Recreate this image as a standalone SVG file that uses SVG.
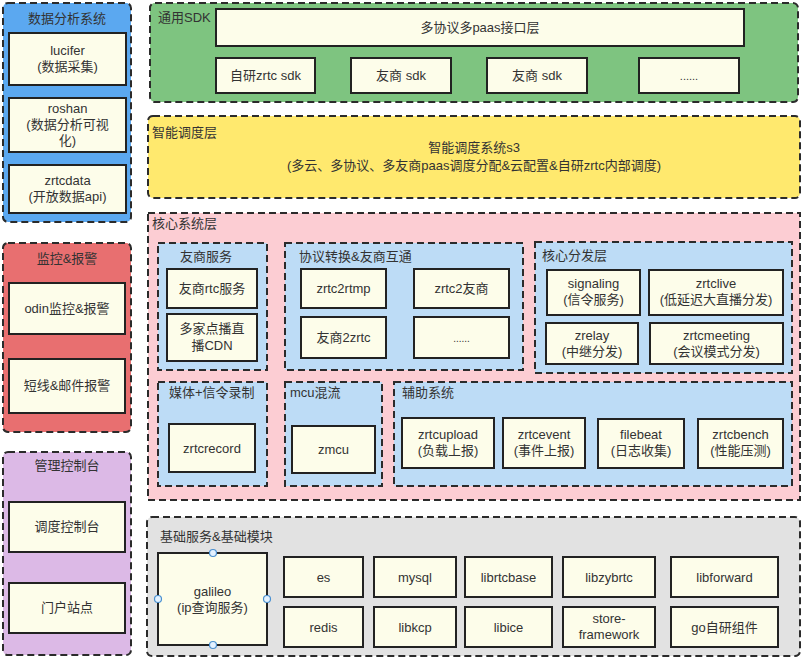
<svg xmlns="http://www.w3.org/2000/svg" width="802" height="658" viewBox="0 0 802 658">
<style>
text{font-family:"Liberation Sans","Noto Sans CJK SC",sans-serif;font-size:13px;fill:#333;}
.c{text-anchor:middle;}
.p{stroke:#2b2b2b;stroke-width:2;stroke-dasharray:7 4;}
.n{fill:#fdfdea;stroke:#222;stroke-width:2;}
.h{fill:#e3f1ff;stroke:#4a90d0;stroke-width:1.2;}
</style>
<rect width="802" height="658" fill="#fff"/>

<!-- 数据分析系统 -->
<g id="data-analysis">
<rect class="p" x="3" y="3" width="128" height="219" rx="5" fill="#5ba8f0"/>
<text class="c" x="67" y="23">数据分析系统</text>
<g id="lucifer"><rect class="n" x="9" y="33" width="117" height="52"/><text class="c" x="67.5" y="55">lucifer</text><text class="c" x="67.5" y="71">(数据采集)</text></g>
<g id="roshan"><rect class="n" x="9" y="98" width="117" height="54"/><text class="c" x="67.5" y="113">roshan</text><text class="c" x="67.5" y="129">(数据分析可视</text><text class="c" x="67.5" y="145">化)</text></g>
<g id="zrtcdata"><rect class="n" x="9" y="165" width="117" height="48"/><text class="c" x="67.5" y="185">zrtcdata</text><text class="c" x="67.5" y="201">(开放数据api)</text></g>
</g>

<!-- 监控&报警 -->
<g id="monitor">
<rect class="p" x="3" y="243" width="128" height="189" rx="5" fill="#e86f70"/>
<text class="c" x="67" y="263">监控&amp;报警</text>
<g id="odin"><rect class="n" x="9" y="283" width="116" height="51"/><text class="c" x="67" y="313">odin监控&amp;报警</text></g>
<g id="sms"><rect class="n" x="9" y="359" width="116" height="54"/><text class="c" x="67" y="390">短线&amp;邮件报警</text></g>
</g>

<!-- 管理控制台 -->
<g id="console">
<rect class="p" x="3" y="452" width="128" height="203" rx="5" fill="#dcb9e6"/>
<text class="c" x="67" y="470">管理控制台</text>
<g id="sched-console"><rect class="n" x="9" y="502" width="116" height="50"/><text class="c" x="67" y="531">调度控制台</text></g>
<g id="portal"><rect class="n" x="9" y="583" width="116" height="50"/><text class="c" x="67" y="612">门户站点</text></g>
</g>

<!-- 通用SDK -->
<g id="sdk">
<rect class="p" x="150" y="3" width="648" height="99" rx="5" fill="#7ec480"/>
<text x="158" y="22">通用SDK</text>
<g id="paas-layer"><rect class="n" x="216" y="9" width="528" height="37"/><text class="c" x="480" y="32">多协议多paas接口层</text></g>
<g id="zrtc-sdk"><rect class="n" x="216" y="58" width="99" height="35"/><text class="c" x="265.5" y="80">自研zrtc sdk</text></g>
<g id="vendor-sdk1"><rect class="n" x="351" y="58" width="100" height="35"/><text class="c" x="401" y="80">友商 sdk</text></g>
<g id="vendor-sdk2"><rect class="n" x="487" y="58" width="100" height="35"/><text class="c" x="537" y="80">友商 sdk</text></g>
<g id="sdk-more"><rect class="n" x="639" y="58" width="100" height="35"/><text class="c" x="689" y="80" style="font-size:11px">......</text></g>
</g>

<!-- 智能调度层 -->
<g id="schedule">
<rect class="p" x="148" y="116" width="652" height="82" rx="5" fill="#ffe96e"/>
<text x="152" y="137">智能调度层</text>
<text class="c" x="474" y="152">智能调度系统s3</text>
<text class="c" x="474" y="170">(多云、多协议、多友商paas调度分配&amp;云配置&amp;自研zrtc内部调度)</text>
</g>

<!-- 核心系统层 -->
<g id="core">
<rect class="p" x="148" y="213" width="652" height="287" fill="#fccdd3"/>
<text x="152" y="228">核心系统层</text>

<g id="vendor-service">
<rect class="p" x="158" y="243" width="109" height="127" fill="#bddcf6"/>
<text x="180" y="261">友商服务</text>
<g id="vendor-rtc"><rect class="n" x="167" y="269" width="90" height="39"/><text class="c" x="212" y="293">友商rtc服务</text></g>
<g id="cdn"><rect class="n" x="167" y="314" width="90" height="47"/><text class="c" x="212" y="333">多家点播直</text><text class="c" x="212" y="350">播CDN</text></g>
</g>

<g id="protocol">
<rect class="p" x="285" y="243" width="238" height="127" fill="#bddcf6"/>
<text x="299" y="261">协议转换&amp;友商互通</text>
<g id="zrtc2rtmp"><rect class="n" x="301" y="269" width="85" height="39"/><text class="c" x="343.5" y="293">zrtc2rtmp</text></g>
<g id="zrtc2vendor"><rect class="n" x="414" y="269" width="95" height="39"/><text class="c" x="461.5" y="293">zrtc2友商</text></g>
<g id="vendor2zrtc"><rect class="n" x="301" y="317" width="85" height="41"/><text class="c" x="343.5" y="342">友商2zrtc</text></g>
<g id="protocol-more"><rect class="n" x="414" y="317" width="95" height="41"/><text class="c" x="461.5" y="342" style="font-size:10px">......</text></g>
</g>

<g id="dispatch">
<rect class="p" x="535" y="242" width="257" height="131" fill="#bddcf6"/>
<text x="542" y="260">核心分发层</text>
<g id="signaling"><rect class="n" x="547" y="270" width="93" height="45"/><text class="c" x="593.5" y="288">signaling</text><text class="c" x="593.5" y="304">(信令服务)</text></g>
<g id="zrtclive"><rect class="n" x="649" y="270" width="134" height="45"/><text class="c" x="716" y="288">zrtclive</text><text class="c" x="716" y="304">(低延迟大直播分发)</text></g>
<g id="zrelay"><rect class="n" x="546" y="323" width="92" height="41"/><text class="c" x="592" y="340">zrelay</text><text class="c" x="592" y="356">(中继分发)</text></g>
<g id="zrtcmeeting"><rect class="n" x="650" y="323" width="133" height="41"/><text class="c" x="716.5" y="340">zrtcmeeting</text><text class="c" x="716.5" y="356">(会议模式分发)</text></g>
</g>

<g id="record">
<rect class="p" x="158" y="382" width="109" height="104" fill="#bddcf6"/>
<text x="169" y="397">媒体+信令录制</text>
<g id="zrtcrecord"><rect class="n" x="169" y="424" width="86" height="48"/><text class="c" x="212" y="453">zrtcrecord</text></g>
</g>

<g id="mcu">
<rect class="p" x="285" y="382" width="97" height="104" fill="#bddcf6"/>
<text x="290" y="397">mcu混流</text>
<g id="zmcu"><rect class="n" x="292" y="426" width="83" height="47"/><text class="c" x="333.5" y="454">zmcu</text></g>
</g>

<g id="aux">
<rect class="p" x="394" y="382" width="398" height="104" fill="#bddcf6"/>
<text x="402" y="397">辅助系统</text>
<g id="zrtcupload"><rect class="n" x="402" y="418" width="92" height="50"/><text class="c" x="448" y="439">zrtcupload</text><text class="c" x="448" y="455">(负载上报)</text></g>
<g id="zrtcevent"><rect class="n" x="503" y="418" width="82" height="50"/><text class="c" x="544" y="439">zrtcevent</text><text class="c" x="544" y="455">(事件上报)</text></g>
<g id="filebeat"><rect class="n" x="598" y="419" width="86" height="49"/><text class="c" x="641" y="439">filebeat</text><text class="c" x="641" y="455">(日志收集)</text></g>
<g id="zrtcbench"><rect class="n" x="698" y="419" width="85" height="49"/><text class="c" x="740.5" y="439">zrtcbench</text><text class="c" x="740.5" y="455">(性能压测)</text></g>
</g>
</g>

<!-- 基础服务&基础模块 -->
<g id="base">
<rect class="p" x="147" y="517" width="653" height="139" rx="5" fill="#e2e2e2"/>
<text x="160" y="541">基础服务&amp;基础模块</text>
<g id="galileo"><rect class="n" x="158" y="553" width="109" height="92"/><text class="c" x="212.5" y="596">galileo</text><text class="c" x="212.5" y="612">(ip查询服务)</text>
<circle class="h" cx="213" cy="553" r="3.5"/><circle class="h" cx="213" cy="645" r="3.5"/><circle class="h" cx="158" cy="599" r="3.5"/><circle class="h" cx="267" cy="599" r="3.5"/></g>
<g id="es"><rect class="n" x="284" y="557" width="79" height="40"/><text class="c" x="323.5" y="582">es</text></g>
<g id="redis"><rect class="n" x="284" y="607" width="79" height="40"/><text class="c" x="323.5" y="632">redis</text></g>
<g id="mysql"><rect class="n" x="374" y="557" width="82" height="40"/><text class="c" x="415" y="582">mysql</text></g>
<g id="libkcp"><rect class="n" x="374" y="607" width="82" height="40"/><text class="c" x="415" y="632">libkcp</text></g>
<g id="librtcbase"><rect class="n" x="465" y="557" width="87" height="40"/><text class="c" x="508.5" y="582">librtcbase</text></g>
<g id="libice"><rect class="n" x="465" y="607" width="87" height="40"/><text class="c" x="508.5" y="632">libice</text></g>
<g id="libzybrtc"><rect class="n" x="563" y="557" width="92" height="40"/><text class="c" x="609" y="582">libzybrtc</text></g>
<g id="store-framework"><rect class="n" x="563" y="607" width="92" height="40"/><text class="c" x="609" y="623">store-</text><text class="c" x="609" y="639">framework</text></g>
<g id="libforward"><rect class="n" x="671" y="557" width="107" height="40"/><text class="c" x="724.5" y="582">libforward</text></g>
<g id="go-components"><rect class="n" x="671" y="607" width="107" height="40"/><text class="c" x="724.5" y="632">go自研组件</text></g>
</g>

<g id="connectors"></g>
</svg>
